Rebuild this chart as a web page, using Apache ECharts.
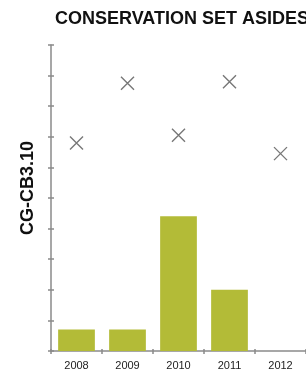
<!DOCTYPE html>
<html>
<head>
<meta charset="utf-8">
<script src="https://cdn.jsdelivr.net/npm/echarts@6/dist/echarts.min.js"></script>
<style>
  html, body { margin: 0; padding: 0; background: #fff; }
  #chart { width: 306px; height: 372px; }
</style>
</head>
<body>
<div id="chart"></div>
<script>
// Chart data
const years = ['2008', '2009', '2010', '2011', '2012'];
const barValues = [0.7, 0.7, 4.4, 2.0, 0];
const crossValues = [6.8, 8.75, 7.05, 8.8, 6.45];

const axisGrey = '#8a8a8a';
const crossPath = 'path://M0 0L10 10M10 0L0 10';

const chart = echarts.init(document.getElementById('chart'));

const option = {
    animation: false,
    backgroundColor: '#fff',
    title: {
        text: 'CONSERVATION SET ASIDES',
        left: 50,
        top: 5,
        textStyle: {
            fontFamily: 'Liberation Sans',
            fontWeight: 'bold',
            fontSize: 18,
            color: '#111'
        }
    },
    grid: { left: 51, top: 45, width: 258, bottom: 21 },
    xAxis: [
        {
            type: 'category',
            data: years,
            boundaryGap: true,
            axisLine: { lineStyle: { color: axisGrey, width: 1.5 } },
            axisTick: { show: true, length: 3, lineStyle: { color: axisGrey, width: 1.5 } },
            axisLabel: { color: '#222', fontSize: 11, fontFamily: 'Liberation Sans', margin: 9 }
        },
        {
            type: 'category',
            data: years,
            position: 'bottom',
            boundaryGap: true,
            axisLine: { show: false },
            axisTick: { show: true, inside: true, length: 2, lineStyle: { color: axisGrey, width: 1.5 } },
            axisLabel: { show: false }
        }
    ],
    yAxis: [
        {
            type: 'value',
            min: 0,
            max: 10,
            interval: 1,
            name: 'CG-CB3.10',
            nameLocation: 'middle',
            nameGap: 14,
            nameTextStyle: {
                fontFamily: 'Liberation Sans',
                fontWeight: 'bold',
                fontSize: 18,
                color: '#111',
                padding: [0, 0, 0, 20]
            },
            axisLine: { show: true, lineStyle: { color: axisGrey, width: 1.5 } },
            axisTick: { show: true, length: 3, lineStyle: { color: axisGrey, width: 1.5 } },
            axisLabel: { show: false },
            splitLine: { show: false }
        },
        {
            type: 'value',
            min: 0,
            max: 10,
            interval: 1,
            position: 'left',
            axisLine: { show: false },
            axisTick: { show: true, inside: true, length: 3, lineStyle: { color: axisGrey, width: 1.5 } },
            axisLabel: { show: false },
            splitLine: { show: false }
        }
    ],
    series: [
        {
            type: 'bar',
            data: barValues,
            barCategoryGap: '28%',
            itemStyle: { color: '#b3bb37' }
        },
        {
            type: 'scatter',
            data: crossValues,
            symbol: crossPath,
            symbolSize: 13,
            itemStyle: { color: 'none', borderColor: '#555', borderWidth: 1.4 }
        }
    ]
};

chart.setOption(option);
</script>
</body>
</html>
